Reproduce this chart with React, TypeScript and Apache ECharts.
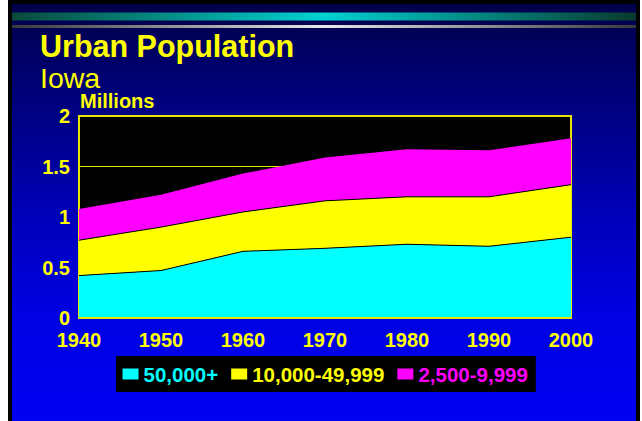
import React, { useEffect, useRef } from 'react';
import * as echarts from 'echarts';

const years = ['1940', '1950', '1960', '1970', '1980', '1990', '2000'];
// Millions of people, stacked bands
const pop50kPlus = [0.42, 0.47, 0.66, 0.69, 0.73, 0.71, 0.80];
const pop10kTo49k = [0.35, 0.43, 0.39, 0.47, 0.47, 0.49, 0.52];
const pop2500To9999 = [0.31, 0.32, 0.38, 0.43, 0.47, 0.46, 0.46];
const seriesNames = ['50,000+', '10,000-49,999', '2,500-9,999'];

const FONT = '"Liberation Sans", Arial, Helvetica, sans-serif';
const YELLOW = '#ffff00';
const CYAN = '#00ffff';
const MAGENTA = '#ff00ff';

export default function App() {
  const ref = useRef<HTMLDivElement>(null);

  useEffect(() => {
    const chart = echarts.init(ref.current!, null, { renderer: 'svg' });
    chart.setOption({
      animation: false,
      backgroundColor: '#ffffff',
      textStyle: { fontFamily: FONT },
      graphic: {
        elements: [
          { type: 'rect', z: -100, shape: { x: 8, y: 0, width: 632, height: 421 }, style: { fill: '#000000' } },
          {
            type: 'rect', z: -99, shape: { x: 12, y: 4, width: 624, height: 417 },
            style: {
              fill: new echarts.graphic.LinearGradient(0, 0, 0, 1, [
                { offset: 0, color: '#00004a' },
                { offset: 0.25, color: '#000080' },
                { offset: 0.5, color: '#0000b8' },
                { offset: 0.75, color: '#0000e4' },
                { offset: 1, color: '#0000f2' },
              ]),
            },
          },
          {
            type: 'rect', z: -98, shape: { x: 12, y: 12.5, width: 624, height: 8 },
            style: {
              fill: new echarts.graphic.LinearGradient(0, 0, 1, 0, [
                { offset: 0, color: '#0a4a3c' },
                { offset: 0.5, color: '#00d2d2' },
                { offset: 1, color: '#0a3a2e' },
              ]),
            },
          },
          {
            type: 'rect', z: -98, shape: { x: 12, y: 25, width: 624, height: 3 },
            style: {
              fill: new echarts.graphic.LinearGradient(0, 0, 1, 0, [
                { offset: 0, color: '#3a3a3a' },
                { offset: 0.5, color: '#e8e8e8' },
                { offset: 1, color: '#3a3a3a' },
              ]),
            },
          },
          {
            type: 'text', z: 100, x: 40, y: 46,
            style: { text: 'Urban Population', fill: YELLOW, font: `bold 30.5px ${FONT}`, verticalAlign: 'middle', lineHeight: 26 },
          },
          {
            type: 'text', z: 100, x: 40, y: 78,
            style: { text: 'Iowa', fill: YELLOW, font: `28.5px ${FONT}`, verticalAlign: 'middle', lineHeight: 24 },
          },
          {
            type: 'text', z: 100, x: 80, y: 101,
            style: { text: 'Millions', fill: YELLOW, font: `bold 20px ${FONT}`, verticalAlign: 'middle', lineHeight: 17 },
          },
        ],
      },
      grid: {
        left: 79,
        right: 71,
        top: 116,
        bottom: 103,
        show: true,
        backgroundColor: '#000000',
        borderColor: '#e6e600',
        borderWidth: 2,
      },
      legend: {
        left: 116,
        top: 356,
        padding: [7.5, 8, 7.5, 6.5],
        backgroundColor: '#000000',
        icon: 'rect',
        itemWidth: 16,
        itemHeight: 11,
        itemGap: 13,
        itemStyle: { borderWidth: 0 },
        textStyle: { fontFamily: FONT, fontSize: 20.5, fontWeight: 'bold', lineHeight: 20 },
        data: [
          { name: seriesNames[0], textStyle: { color: CYAN } },
          { name: seriesNames[1], textStyle: { color: YELLOW } },
          { name: seriesNames[2], textStyle: { color: MAGENTA } },
        ],
      },
      xAxis: {
        type: 'category',
        data: years,
        boundaryGap: false,
        z: 10,
        axisLine: { show: true, lineStyle: { color: '#e6e600', width: 2 } },
        axisTick: { show: false },
        splitLine: { show: false },
        axisLabel: { color: YELLOW, fontSize: 20, fontWeight: 'bold', fontFamily: FONT, margin: 12 },
      },
      yAxis: {
        type: 'value',
        min: 0,
        max: 2,
        interval: 0.5,
        axisLine: { show: false },
        axisTick: { show: false },
        splitLine: { show: true, lineStyle: { color: '#e6e600', width: 1 } },
        axisLabel: { color: YELLOW, fontSize: 20, fontWeight: 'bold', fontFamily: FONT, margin: 9 },
      },
      series: [
        {
          name: seriesNames[0], type: 'line', stack: 'total', data: pop50kPlus, symbol: 'none', z: 4,
          color: CYAN, lineStyle: { color: '#000000', width: 1 }, areaStyle: { color: CYAN, opacity: 1 },
        },
        {
          name: seriesNames[1], type: 'line', stack: 'total', data: pop10kTo49k, symbol: 'none', z: 3,
          color: YELLOW, lineStyle: { color: '#000000', width: 1 }, areaStyle: { color: YELLOW, opacity: 1 },
        },
        {
          name: seriesNames[2], type: 'line', stack: 'total', data: pop2500To9999, symbol: 'none', z: 2,
          color: MAGENTA, lineStyle: { color: MAGENTA, width: 0 }, areaStyle: { color: MAGENTA, opacity: 1 },
        },
      ],
    });
    return () => chart.dispose();
  }, []);

  return <div ref={ref} style={{ position: 'absolute', left: 0, top: 0, width: 642, height: 421 }} />;
}
